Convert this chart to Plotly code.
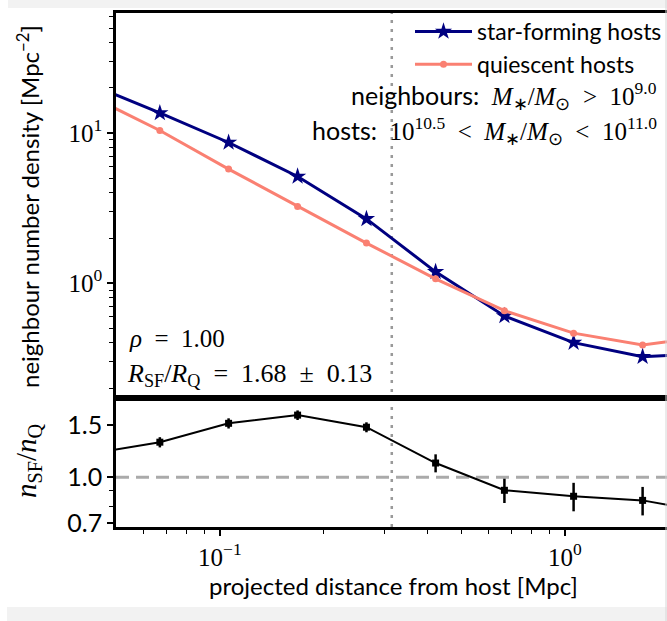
import plotly.graph_objects as go
import math

# ---------------- data ----------------
r_mpc = [0.042, 0.067, 0.106, 0.168, 0.266, 0.422, 0.668, 1.06, 1.68, 2.66]
sf_density = [21.2, 13.6, 8.65, 5.14, 2.68, 1.19, 0.605, 0.402, 0.324, 0.343]
q_density = [17.7, 10.4, 5.75, 3.24, 1.85, 1.07, 0.656, 0.465, 0.388, 0.447]
ratio = [1.20, 1.313, 1.52, 1.62, 1.475, 1.117, 0.904, 0.863, 0.836, 0.76]
ratio_err = [0.04, 0.052, 0.06, 0.06, 0.057, 0.078, 0.085, 0.095, 0.092, 0.12]
r_split = 0.315
ratio_ref = 1.0
x_ticks = [0.1, 1.0]
x_ticktext = ["10<sup>−1</sup>", "10<sup>0</sup>"]
y_ticks = [1.0, 10.0]
y_ticktext = ["10<sup>0</sup>", "10<sup>1</sup>"]
r_ticks = [0.7, 1.0, 1.5]
r_ticktext = ["0.7", "1.0", "1.5"]

# ---------------- layout geometry ----------------
W, H = 667, 621
L, R, T, B = 116, 0, 13, 94
PW, PH = W - L - R, H - T - B
split_px = 398


def px_x(x):
    return (x - L) / PW


def px_y(y):
    return (H - B - y) / PH


split = px_y(split_px)

SANS = "Lato"
SERIF = "Liberation Serif"
NAVY = "#000080"
SALMON = "#FA8072"
SP = "\u2002"  # en space for TeX-like relation spacing

fig = go.Figure()

fig.add_trace(go.Scatter(
    x=r_mpc, y=sf_density, xaxis="x2", yaxis="y2", name="star-forming hosts",
    mode="lines+markers", line=dict(color=NAVY, width=3),
    marker=dict(symbol="star", size=13, color=NAVY)))
fig.add_trace(go.Scatter(
    x=r_mpc, y=q_density, xaxis="x2", yaxis="y2", name="quiescent hosts",
    mode="lines+markers", line=dict(color=SALMON, width=3),
    marker=dict(symbol="circle", size=7, color=SALMON)))
fig.add_trace(go.Scatter(
    x=r_mpc, y=ratio, xaxis="x", yaxis="y", showlegend=False,
    mode="lines+markers", line=dict(color="black", width=2),
    marker=dict(symbol="square", size=7, color="black"),
    error_y=dict(type="data", array=ratio_err, thickness=2.5, width=0, color="black")))

x_minor = [0.06, 0.07, 0.08, 0.09, 0.2, 0.3, 0.4, 0.5, 0.6, 0.7, 0.8, 0.9, 2.0]
y_minor = [0.2, 0.3, 0.4, 0.5, 0.6, 0.7, 0.8, 0.9, 2, 3, 4, 5, 6, 7, 8, 9, 20, 30, 40, 50, 60]
r_minor = [0.8, 0.9]

xr = [math.log10(0.05), math.log10(1.977)]
axis_common = dict(showline=True, linecolor="black", linewidth=2.5, showgrid=False,
                   zeroline=False)

fig.update_layout(
    width=W, height=H, margin=dict(l=L, r=R, t=T, b=B),
    paper_bgcolor="white", plot_bgcolor="white",
    xaxis=dict(type="log", range=xr, anchor="y", domain=[0, 1], mirror=True,
               ticks="outside", ticklen=6, tickwidth=1.5, tickcolor="black",
               tickvals=x_ticks, ticktext=x_ticktext,
               tickfont=dict(family=SERIF, size=25, color="black"),
               minor=dict(tickvals=x_minor, ticks="outside", ticklen=4, tickwidth=1.2,
                          tickcolor="black"),
               **axis_common),
    yaxis=dict(type="log", range=[math.log10(0.68), math.log10(1.85)], anchor="x",
               domain=[0, split], ticks="outside", ticklen=6, tickwidth=1.5,
               tickcolor="black", tickvals=r_ticks, ticktext=r_ticktext,
               tickfont=dict(family=SANS, size=25, color="black"),
               minor=dict(tickvals=r_minor, ticks="outside", ticklen=4, tickwidth=1.2,
                          tickcolor="black"),
               **axis_common),
    xaxis2=dict(type="log", range=xr, anchor="y2", matches="x", mirror=True,
                showticklabels=False, ticks="", **axis_common),
    yaxis2=dict(type="log", range=[math.log10(0.172), math.log10(63)], anchor="x2",
                domain=[split, 1], ticks="outside", ticklen=6, tickwidth=1.5,
                tickcolor="black", tickvals=y_ticks, ticktext=y_ticktext,
                tickfont=dict(family=SERIF, size=25, color="black"),
                minor=dict(tickvals=y_minor, ticks="outside", ticklen=4, tickwidth=1.2,
                           tickcolor="black"),
                **axis_common),
    legend=dict(x=1.0, y=px_y(10), xanchor="right", yanchor="top",
                bgcolor="rgba(0,0,0,0)", borderwidth=0, itemwidth=57,
                font=dict(family=SANS, size=23, color="black"), tracegroupgap=0),
    showlegend=True,
)

shapes = []
# vertical dotted split line across both panels
shapes.append(dict(type="line", xref="x", yref="paper", x0=r_split, x1=r_split,
                   y0=0, y1=1, line=dict(color="#999999", width=2.5, dash="3px,6px"),
                   layer="below"))
# horizontal dashed ratio = 1 line
shapes.append(dict(type="line", xref="paper", yref="y", x0=0, x1=1, y0=ratio_ref,
                   y1=ratio_ref, line=dict(color="#aaaaaa", width=3, dash="13px,7px"),
                   layer="below"))
# light grey page frame (screenshot border)
shapes.append(dict(type="rect", xref="paper", yref="paper", x0=px_x(8), x1=px_x(W),
                   y0=px_y(8), y1=px_y(0), fillcolor="#f2f2f2", line=dict(width=0)))
shapes.append(dict(type="rect", xref="paper", yref="paper", x0=px_x(7), x1=px_x(W),
                   y0=px_y(H), y1=px_y(607), fillcolor="#f2f2f2", line=dict(width=0)))
shapes.append(dict(type="line", xref="paper", yref="paper", x0=px_x(666), x1=px_x(666),
                   y0=px_y(H), y1=px_y(0), line=dict(color="#d6d6d6", width=1)))
fig.update_layout(shapes=shapes)

SANS_SPAN = "<span style='font-family:Lato'>{}</span>"

ann = []
ann.append(dict(text="neighbour number density [Mpc<sup>−2</sup>]", xref="paper",
                yref="paper", x=px_x(28), y=px_y(207), textangle=-90, showarrow=False,
                xanchor="center", yanchor="middle",
                font=dict(family=SANS, size=24, color="black")))
ann.append(dict(text="<i>n</i><sub>SF</sub>/<i>n</i><sub>Q</sub>", xref="paper",
                yref="paper", x=px_x(28), y=px_y(461), textangle=-90, showarrow=False,
                xanchor="center", yanchor="middle",
                font=dict(family=SERIF, size=29, color="black")))
ann.append(dict(text="projected distance from host [Mpc]", xref="paper", yref="paper",
                x=px_x(393), y=px_y(585), showarrow=False, xanchor="center",
                yanchor="middle", font=dict(family=SANS, size=24, color="black")))
ann.append(dict(text=SANS_SPAN.format("neighbours:") + SP
                + "<i>M</i><sub>∗</sub>/<i>M</i><sub>⊙</sub>" + SP + ">" + SP
                + "10<sup>9.0</sup>",
                xref="paper", yref="paper", x=px_x(659), y=px_y(96), showarrow=False,
                xanchor="right", yanchor="middle",
                font=dict(family=SERIF, size=25, color="black")))
ann.append(dict(text=SANS_SPAN.format("hosts:") + SP + "10<sup>10.5</sup>" + SP + "<" + SP
                + "<i>M</i><sub>∗</sub>/<i>M</i><sub>⊙</sub>" + SP + "<" + SP
                + "10<sup>11.0</sup>",
                xref="paper", yref="paper", x=px_x(659), y=px_y(131), showarrow=False,
                xanchor="right", yanchor="middle",
                font=dict(family=SERIF, size=25, color="black")))
ann.append(dict(text="<i>ρ</i>" + SP + "=" + SP + "1.00", xref="paper", yref="paper",
                x=px_x(127), y=px_y(338), showarrow=False, xanchor="left",
                yanchor="middle", font=dict(family=SERIF, size=25, color="black")))
ann.append(dict(text="<i>R</i><sub>SF</sub>/<i>R</i><sub>Q</sub>" + SP + "=" + SP
                + "1.68" + SP + "±" + SP + "0.13",
                xref="paper", yref="paper", x=px_x(125), y=px_y(375), showarrow=False,
                xanchor="left", yanchor="middle",
                font=dict(family=SERIF, size=26, color="black")))
fig.update_layout(annotations=ann)

fig.write_html("out.html")
